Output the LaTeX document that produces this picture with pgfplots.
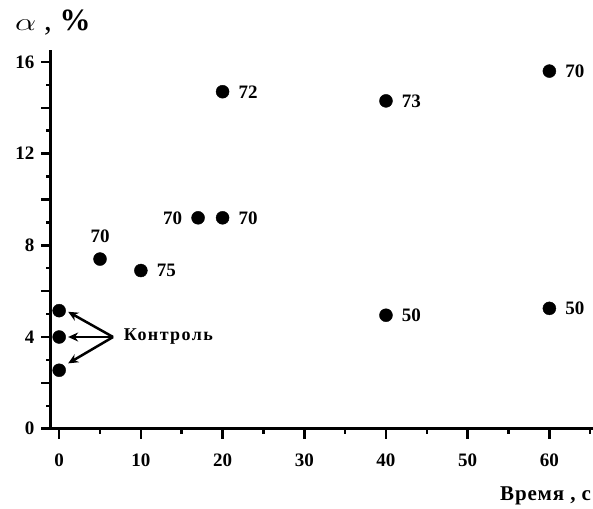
\documentclass[border=0pt]{standalone}
\usepackage{fontspec}
\setmainfont{Liberation Serif}
\usepackage{pgfplots}
\usepackage{pgfplotstable}
\pgfplotsset{compat=1.18}
\usetikzlibrary{arrows.meta}
\pgfplotstableread{
x y lab
10 6.9 75
20 9.2 70
20 14.7 72
40 14.3 73
60 15.6 70
40 4.95 50
60 5.25 50
}\labright
\pgfplotstableread{
x y lab
5 7.4 70
}\labtop
\pgfplotstableread{
x y lab
17 9.2 70
}\lableft
\pgfplotstableread{
x y
0 5.15
0 4.0
0 2.55
}\control
\pgfplotsset{
  dots/.style={only marks, mark=*, mark size=6.5pt, black},
  labdots/.style={dots, point meta=explicit symbolic, nodes near coords,
     every node near coord/.style={anchor=#1, outer sep=15pt, inner sep=1pt,
     font=\bfseries\fontsize{19}{19}\selectfont, text=black}},
}
\begin{document}
\begin{tikzpicture}[x=1pt,y=1pt]
\begin{axis}[
  at={(51pt,79.3pt)}, anchor=south west,
  scale only axis, width=542pt, height=378.7pt,
  xmin=-1, xmax=65.34, ymin=0, ymax=16.52,
  axis lines=left,
  axis line style={-, line width=3pt},
  x axis line style={shorten <=-9pt},
  tick align=outside,
  major tick length=10pt, minor tick length=5pt,
  every tick/.style={black, line width=2.5pt},
  xtick={0,10,...,60}, minor xtick={5,15,...,65},
  ytick={0,2,...,16}, yticklabels={0,,4,,8,,12,,16},
  minor ytick={1,3,...,15},
  /pgf/number format/assume math mode=true,
  ticklabel style={font=\bfseries\fontsize{19}{19}\selectfont},
  xticklabel style={yshift=-12pt},
  yticklabel style={xshift=-3pt},
  clip=false,
]
\addplot[labdots=west] table[x=x, y=y, meta=lab] {\labright};
\addplot[labdots=south] table[x=x, y=y, meta=lab] {\labtop};
\addplot[labdots=east] table[x=x, y=y, meta=lab] {\lableft};
\addplot[dots] table[x=x,y=y] {\control};
\node[anchor=west, font=\bfseries\fontsize{18}{18}\selectfont, inner sep=0pt] at (axis cs:7.9,4) {\addfontfeature{LetterSpace=8}Контроль};
\draw[line width=2.5pt, -{Stealth[length=10pt,width=9pt]}] (axis cs:6.6,4) -- (axis cs:1.1,5.1);
\draw[line width=2.5pt, -{Stealth[length=10pt,width=9pt]}] (axis cs:6.6,4) -- (axis cs:1.1,4.0);
\draw[line width=2.5pt, -{Stealth[length=10pt,width=9pt]}] (axis cs:6.6,4) -- (axis cs:1.1,2.85);
\end{axis}
\node[anchor=base west, inner sep=0pt] at (15pt,477pt) {\fontsize{31}{31}\selectfont \scalebox{1.35}[1]{$\alpha$}\ ,\ \textbf{\%}};
\node[anchor=base west, inner sep=0pt, font=\bfseries\fontsize{21}{21}\selectfont] at (500pt,8pt) {\addfontfeature{LetterSpace=4}Время , с};
\pgfresetboundingbox
\path[use as bounding box] (0,0) rectangle (593pt,508pt);
\end{tikzpicture}
\end{document}
